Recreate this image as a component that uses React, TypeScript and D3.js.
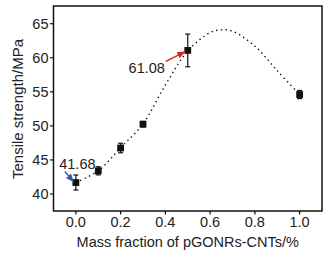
import React from "react";
import * as d3 from "d3";

const massFraction = [0.0, 0.1, 0.2, 0.3, 0.5, 1.0];
const strength = [41.68, 43.4, 46.75, 50.25, 61.08, 54.6];
const errors = [1.1, 0.6, 0.7, 0.4, 2.4, 0.6];

const curveX = [0.0, 0.1, 0.2, 0.3, 0.4, 0.5, 0.6, 0.65, 0.7, 0.8, 0.9, 1.0];
const curveY = [41.7, 43.4, 46.8, 50.3, 56.0, 61.0, 63.7, 64.1, 63.9, 61.7, 58.1, 54.6];

const xTicks = [0.0, 0.2, 0.4, 0.6, 0.8, 1.0];
const yTicks = [40, 45, 50, 55, 60, 65];

const W = 330;
const H = 259;
const L = 53.5, R = 322, T = 6, B = 211;
const FONT = "'Liberation Sans', Arial, sans-serif";
const TXT = "#222";

export default function App() {
  const x = d3.scaleLinear().domain([-0.1, 1.1]).range([L, R]);
  const y = d3.scaleLinear().domain([37.5, 67.6]).range([B, T]);

  const line = d3
    .line<number>()
    .x((_, i) => x(curveX[i]))
    .y((d) => y(d))
    .curve(d3.curveCatmullRom.alpha(0.5));
  const path = line(curveY) || "";

  const i0 = 0;
  const i5 = 4;

  return (
    <div style={{ position: "absolute", left: 0, top: 0 }}>
      <svg width={W} height={H} style={{ display: "block", background: "#fff" }}>
        <defs>
          <marker id="ahRed" viewBox="0 0 10 10" refX="9" refY="5" markerWidth="6" markerHeight="6" orient="auto">
            <path d="M0,1 L10,5 L0,9 z" fill="#e0201b" />
          </marker>
          <marker id="ahBlue" viewBox="0 0 10 10" refX="9" refY="5" markerWidth="6" markerHeight="6" orient="auto">
            <path d="M0,1 L10,5 L0,9 z" fill="#2a5db0" />
          </marker>
        </defs>

        {/* frame */}
        <rect x={L} y={T} width={R - L} height={B - T} fill="none" stroke="#111" strokeWidth={1.5} />

        {/* y ticks */}
        {yTicks.map((t) => (
          <g key={"y" + t}>
            <line x1={L - 3.5} x2={L} y1={y(t)} y2={y(t)} stroke="#111" strokeWidth={1.2} />
            <text x={L - 5} y={y(t)} dy="0.36em" textAnchor="end" fontFamily={FONT} fontSize={14.5} fill={TXT}>
              {t}
            </text>
          </g>
        ))}

        {/* x ticks */}
        {xTicks.map((t) => (
          <g key={"x" + t}>
            <line x1={x(t)} x2={x(t)} y1={B} y2={B + 3.5} stroke="#111" strokeWidth={1.2} />
            <text x={x(t)} y={B + 16} textAnchor="middle" fontFamily={FONT} fontSize={14.5} fill={TXT}>
              {t.toFixed(1)}
            </text>
          </g>
        ))}

        {/* axis titles */}
        <text x={(L + R) / 2} y={246.5} textAnchor="middle" fontFamily={FONT} fontSize={14.5} fill={TXT}>
          Mass fraction of pGONRs-CNTs/%
        </text>
        <text
          transform={`translate(23,${(T + B) / 2 + 0.5}) rotate(-90)`}
          textAnchor="middle"
          fontFamily={FONT}
          fontSize={15}
          fill={TXT}
        >
          Tensile strength/MPa
        </text>

        {/* fitted dotted curve */}
        <path d={path} fill="none" stroke="#111" strokeWidth={1.4} strokeDasharray="1.4,3.4" />

        {/* error bars and markers */}
        {massFraction.map((m, i) => {
          const cx = x(m);
          const lo = y(strength[i] - errors[i]);
          const hi = y(strength[i] + errors[i]);
          return (
            <g key={"p" + i}>
              <line x1={cx} x2={cx} y1={lo} y2={hi} stroke="#111" strokeWidth={1.2} />
              <line x1={cx - 2.5} x2={cx + 2.5} y1={lo} y2={lo} stroke="#111" strokeWidth={1.2} />
              <line x1={cx - 2.5} x2={cx + 2.5} y1={hi} y2={hi} stroke="#111" strokeWidth={1.2} />
              <rect x={cx - 3.4} y={y(strength[i]) - 3.4} width={6.8} height={6.8} fill="#111" />
            </g>
          );
        })}

        {/* annotations */}
        <line
          x1={x(massFraction[i5]) - 22}
          y1={y(strength[i5]) + 11}
          x2={x(massFraction[i5]) - 3}
          y2={y(strength[i5]) + 1.5}
          stroke="#e0201b"
          strokeWidth={1.4}
          markerEnd="url(#ahRed)"
        />
        <text x={x(massFraction[i5]) - 41} y={y(strength[i5]) + 23} textAnchor="middle" fontFamily={FONT} fontSize={14.5} fill={TXT}>
          {strength[i5].toFixed(2)}
        </text>

        <line
          x1={x(massFraction[i0]) - 11}
          y1={y(strength[i0]) - 11}
          x2={x(massFraction[i0]) - 2.5}
          y2={y(strength[i0]) - 1}
          stroke="#2a5db0"
          strokeWidth={1.4}
          markerEnd="url(#ahBlue)"
        />
        <text x={x(massFraction[i0]) + 1.5} y={y(strength[i0]) - 14} textAnchor="middle" fontFamily={FONT} fontSize={14.5} fill={TXT}>
          {strength[i0].toFixed(2)}
        </text>
      </svg>
    </div>
  );
}
